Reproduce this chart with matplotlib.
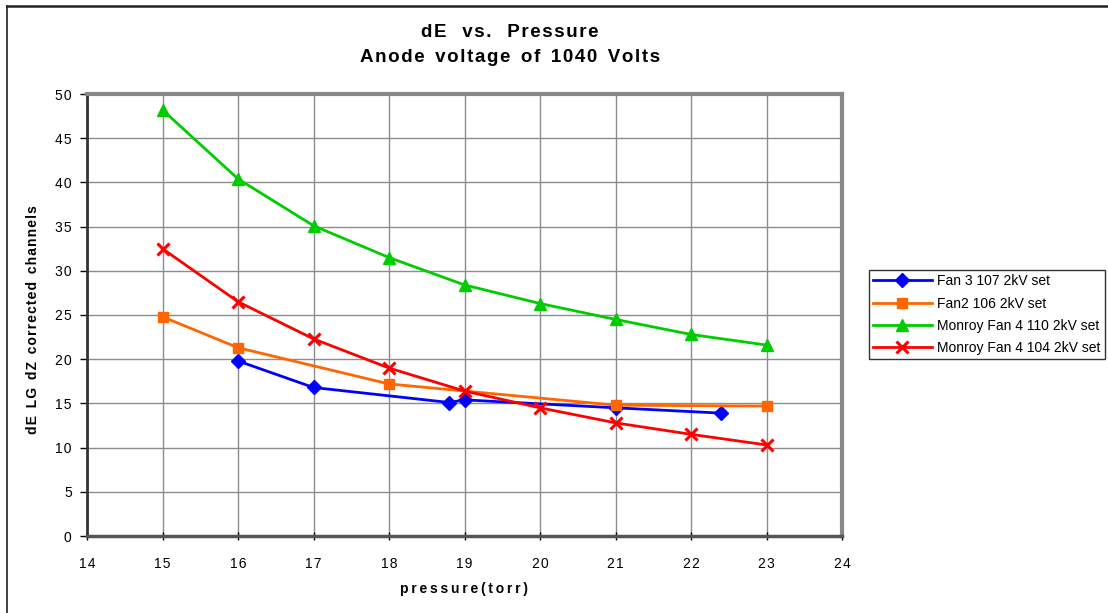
import matplotlib
matplotlib.use("Agg")
import matplotlib.pyplot as plt
from matplotlib.lines import Line2D
from matplotlib.ticker import FuncFormatter

plt.rcParams['font.family'] = ['Liberation Sans', 'DejaVu Sans']

# Series data: pressure (torr) vs dE (corrected channels)
fan3_x = [16.0, 17.0, 18.8, 19.0, 21.0, 22.4]
fan3_y = [19.8, 16.8, 15.1, 15.4, 14.5, 13.9]

fan2_x = [15, 16, 18, 21, 23]
fan2_y = [24.8, 21.3, 17.2, 14.8, 14.7]

monroy110_x = [15, 16, 17, 18, 19, 20, 21, 22, 23]
monroy110_y = [48.2, 40.4, 35.1, 31.5, 28.4, 26.3, 24.5, 22.8, 21.6]

monroy104_x = [15, 16, 17, 18, 19, 20, 21, 22, 23]
monroy104_y = [32.5, 26.5, 22.3, 19.0, 16.4, 14.5, 12.8, 11.5, 10.3]

labels = ["Fan 3 107 2kV set", "Fan2 106 2kV set",
          "Monroy Fan 4 110 2kV set", "Monroy Fan 4 104 2kV set"]

x_ticks = list(range(14, 25))
y_ticks = list(range(0, 51, 5))

THIN = '\u2009'
HAIR = '\u200a'


def tracked(s, sp):
    """Spread the letters of each word apart by inserting a narrow space."""
    return ' '.join(sp.join(word) for word in s.split(' '))


W, H = 1108, 613
fig = plt.figure(figsize=(W / 100, H / 100), dpi=100)

# outer frame (left and top edges)
fig.add_artist(Line2D([7 / W, 7 / W], [0, 1 - 6 / H], color='#222222', lw=1.2,
                      transform=fig.transFigure))
fig.add_artist(Line2D([7 / W, 1], [1 - 6 / H, 1 - 6 / H], color='#222222', lw=1.8,
                      transform=fig.transFigure))

ax = fig.add_axes([87 / W, 1 - 536 / H, (842 - 87) / W, (536 - 94) / H])

ax.plot(fan3_x, fan3_y, color='#0000ff', lw=2.0, marker='D', markersize=7,
        label=labels[0], zorder=3)
ax.plot(fan2_x, fan2_y, color='#ff6600', lw=2.0, marker='s', markersize=7,
        label=labels[1], zorder=3)
ax.plot(monroy110_x, monroy110_y, color='#00cc00', lw=2.0, marker='^', markersize=9,
        label=labels[2], zorder=3)
ax.plot(monroy104_x, monroy104_y, color='#ff0000', lw=2.0, marker='x', markersize=9,
        markeredgewidth=2.2, label=labels[3], zorder=3)

ax.set_xlim(14, 24)
ax.set_ylim(0, 50)
ax.set_xticks(x_ticks)
ax.set_yticks(y_ticks)
ax.xaxis.set_major_formatter(FuncFormatter(lambda v, p: tracked(f"{v:.0f}", HAIR)))
ax.yaxis.set_major_formatter(FuncFormatter(lambda v, p: tracked(f"{v:.0f}", HAIR)))
ax.grid(True, color='#8c8c8c', lw=1.0, zorder=0)
ax.set_axisbelow(True)

ax.spines['left'].set_color('#333333')
ax.spines['left'].set_linewidth(2.0)
ax.spines['bottom'].set_color('#555555')
ax.spines['bottom'].set_linewidth(2.5)
ax.spines['top'].set_color('#888888')
ax.spines['top'].set_linewidth(3.0)
ax.spines['right'].set_color('#888888')
ax.spines['right'].set_linewidth(3.0)

ax.tick_params(axis='y', direction='out', length=5, width=1, color='black',
               labelsize=10, pad=6)
ax.tick_params(axis='x', direction='inout', length=6, width=1, color='black',
               labelsize=10, pad=12)

ax.set_xlabel(tracked("pressure(torr)", THIN), fontsize=10, fontweight='bold',
              labelpad=8)
ax.set_ylabel(tracked("dE  LG  dZ  corrected  channels", HAIR), fontsize=10,
              fontweight='bold')
ax.yaxis.set_label_coords(-47 / (842 - 87), (536 - 320) / (536 - 94))

fig.text(510 / W, 1 - 45 / H,
         tracked("dE   vs.   Pressure", HAIR) + "\n" +
         tracked("Anode  voltage  of  1040  Volts", HAIR),
         ha='center', va='center', fontsize=13.5, fontweight='bold', linespacing=1.55)

leg = ax.legend(loc='upper left', bbox_to_anchor=(869 / W, 1 - 270 / H),
                bbox_transform=fig.transFigure, fontsize=10, frameon=True,
                fancybox=False, edgecolor='black', handlelength=4.2,
                borderpad=0.3, labelspacing=0.6, handletextpad=0.4,
                borderaxespad=0)
leg.get_frame().set_linewidth(1.0)

fig.savefig("out.png", dpi=100)
